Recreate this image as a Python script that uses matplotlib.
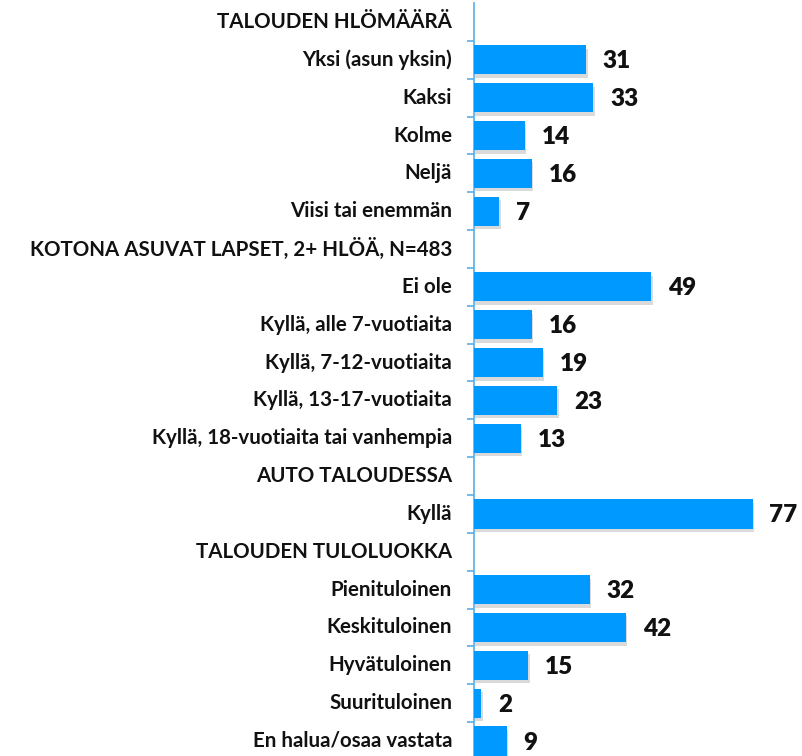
import matplotlib.pyplot as plt
import matplotlib.patheffects as pe
import numpy as np

plt.rcParams['font.family'] = ['Lato', 'DejaVu Sans']

labels = ['TALOUDEN HLÖMÄÄRÄ', 'Yksi (asun yksin)', 'Kaksi', 'Kolme', 'Neljä',
          'Viisi tai enemmän', 'KOTONA ASUVAT LAPSET, 2+ HLÖÄ, N=483', 'Ei ole',
          'Kyllä, alle 7-vuotiaita', 'Kyllä, 7-12-vuotiaita', 'Kyllä, 13-17-vuotiaita',
          'Kyllä, 18-vuotiaita tai vanhempia', 'AUTO TALOUDESSA', 'Kyllä',
          'TALOUDEN TULOLUOKKA', 'Pienituloinen', 'Keskituloinen', 'Hyvätuloinen',
          'Suurituloinen', 'En halua/osaa vastata']
values = [None, 31, 33, 14, 16, 7, None, 49, 16, 19, 23, 13, None, 77, None, 32, 42, 15, 2, 9]

bar_color = '#0099ff'
axis_color = '#5aaee6'

n = len(labels)
fig = plt.figure(figsize=(8.02, 7.56), dpi=100)
row_px = (741 - 22) / (n - 1)
top_px = 22 - row_px / 2
bottom_px = top_px + n * row_px
ax = fig.add_axes([474 / 802, 1 - bottom_px / 756, (802 - 474) / 802, n * row_px / 756])

y = np.arange(n)
for yi, v in zip(y, values):
    if v is None:
        continue
    ax.barh(yi, v, height=0.77, color=bar_color, zorder=3,
            path_effects=[pe.SimplePatchShadow(offset=(1, -2.5), alpha=0.18, shadow_rgbFace='#333333'), pe.Normal()])
    ax.text(v + 4.6, yi + 0.04, str(v), va='center', ha='left', fontsize=17.5,
            fontweight='heavy', color='#111111')

ax.set_xlim(0, 328 / 3.62)
ax.set_ylim(n - 0.5, -0.5)
for s in ['top', 'right', 'bottom']:
    ax.spines[s].set_visible(False)
ax.spines['left'].set_color(axis_color)
ax.spines['left'].set_linewidth(1.2)
ax.set_xticks([])
ax.set_yticks(y + 0.5, minor=False)
ax.set_yticklabels([])
ax.tick_params(axis='y', length=5, color=axis_color, width=1.2)
for yi, lab in zip(y, labels):
    ax.text(-22 / 3.62, yi, lab, ha='right', va='center', fontsize=14.8,
            fontweight='bold', color='#111111', clip_on=False)

fig.savefig('out.png', dpi=100)
